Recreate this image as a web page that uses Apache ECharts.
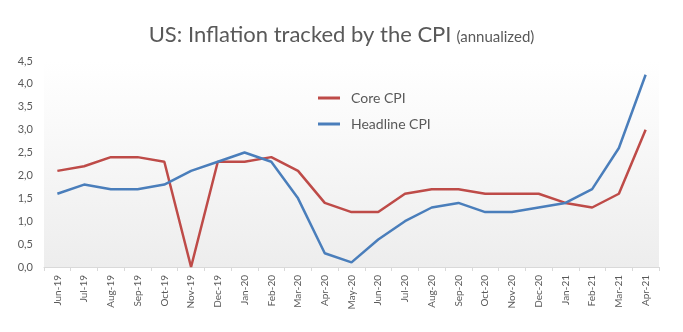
<!DOCTYPE html>
<html>
<head>
<meta charset="utf-8">
<script src="https://cdn.jsdelivr.net/npm/echarts@6/dist/echarts.min.js"></script>
<style>
  html, body { margin: 0; padding: 0; background: #fff; }
  #chart { width: 683px; height: 332px; }
</style>
</head>
<body>
<div id="chart"></div>
<script>
// Monthly categories, Jun-19 .. Apr-21
const months = ['Jun-19','Jul-19','Aug-19','Sep-19','Oct-19','Nov-19','Dec-19','Jan-20','Feb-20','Mar-20','Apr-20','May-20',
                'Jun-20','Jul-20','Aug-20','Sep-20','Oct-20','Nov-20','Dec-20','Jan-21','Feb-21','Mar-21','Apr-21'];

// Annualized CPI readings (%)
const coreCPI     = [2.1, 2.2, 2.4, 2.4, 2.3, 0.0, 2.3, 2.3, 2.4, 2.1, 1.4, 1.2, 1.2, 1.6, 1.7, 1.7, 1.6, 1.6, 1.6, 1.4, 1.3, 1.6, 3.0];
const headlineCPI = [1.6, 1.8, 1.7, 1.7, 1.8, 2.1, 2.3, 2.5, 2.3, 1.5, 0.3, 0.1, 0.6, 1.0, 1.3, 1.4, 1.2, 1.2, 1.3, 1.4, 1.7, 2.6, 4.2];

const FONT = 'Lato, "Open Sans", sans-serif';
const TEXT = '#595959';

const chart = echarts.init(document.getElementById('chart'));
chart.setOption({
  animation: false,
  title: {
    text: '{main|US: Inflation tracked by the CPI} {sub|(annualized)}',
    left: 'center',
    top: 19,
    textStyle: {
      fontWeight: 'normal',
      rich: {
        main: { fontFamily: FONT, fontSize: 22, fontWeight: 'normal', color: TEXT },
        sub:  { fontFamily: FONT, fontSize: 15, fontWeight: 'normal', color: TEXT, padding: [5, 0, 0, 0] }
      }
    }
  },
  legend: {
    orient: 'vertical',
    left: 313,
    top: 86,
    itemWidth: 22,
    itemHeight: 3,
    itemGap: 12,
    icon: 'rect',
    textStyle: { fontFamily: FONT, fontSize: 14, color: TEXT, padding: [0, 0, 0, 6] },
    data: ['Core CPI', 'Headline CPI']
  },
  grid: {
    left: 44, right: 24, top: 61, bottom: 65,
    show: true,
    borderWidth: 0,
    backgroundColor: new echarts.graphic.LinearGradient(0, 0, 0, 1, [
      { offset: 0, color: '#ffffff' },
      { offset: 0.18, color: '#fcfcfc' },
      { offset: 1, color: '#ededed' }
    ])
  },
  xAxis: {
    type: 'category',
    data: months,
    boundaryGap: true,
    axisLine: { lineStyle: { color: '#d9d9d9', width: 1 } },
    axisTick: { show: true, length: 4, lineStyle: { color: '#d9d9d9' } },
    axisLabel: { rotate: 90, interval: 0, fontFamily: FONT, fontSize: 10, color: TEXT, margin: 8 }
  },
  yAxis: {
    type: 'value',
    min: 0, max: 4.5, interval: 0.5,
    axisLine: { show: false },
    axisTick: { show: false },
    splitLine: { show: false },
    axisLabel: {
      fontFamily: FONT, fontSize: 11, color: TEXT, margin: 11,
      formatter: v => v.toFixed(1).replace('.', ',')
    }
  },
  series: [
    {
      name: 'Core CPI', type: 'line', data: coreCPI,
      symbol: 'none', color: '#be4b48',
      lineStyle: { width: 2.5, color: '#be4b48' }
    },
    {
      name: 'Headline CPI', type: 'line', data: headlineCPI,
      symbol: 'none', color: '#4a7ebb',
      lineStyle: { width: 2.5, color: '#4a7ebb' }
    }
  ]
});
</script>
</body>
</html>
